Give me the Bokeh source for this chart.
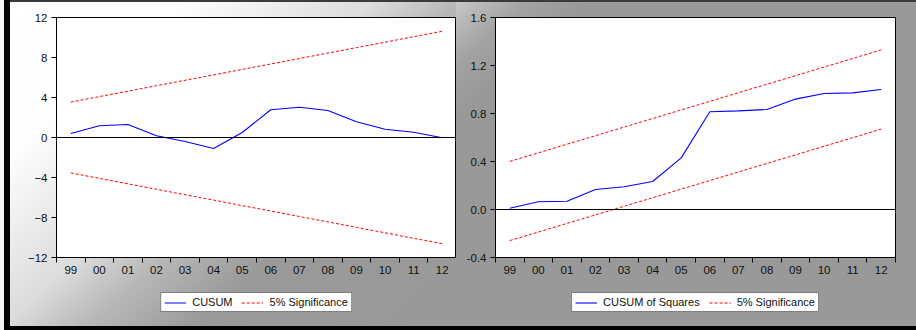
from bokeh.plotting import figure
from bokeh.models import (Range1d, FixedTicker, Span, Legend, LegendItem,
                          PrintfTickFormatter, CustomJSTickFormatter, BasicTickFormatter)
from bokeh.layouts import row, column
from bokeh.embed import file_html
from bokeh.resources import INLINE

# ---------------- data ----------------
years = ["99", "00", "01", "02", "03", "04", "05", "06", "07", "08", "09", "10", "11", "12"]

cusum = [0.40, 1.17, 1.30, 0.17, -0.40, -1.10, 0.50, 2.77, 3.03, 2.70, 1.57, 0.83, 0.53, -0.03]
cusum_upper = [3.54, 4.09, 4.63, 5.18, 5.72, 6.26, 6.81, 7.35, 7.90, 8.44, 8.99, 9.53, 10.08, 10.62]
cusum_lower = [-3.54, -4.09, -4.63, -5.18, -5.72, -6.26, -6.81, -7.35, -7.90, -8.44, -8.99, -9.53, -10.08, -10.62]

cusumsq = [0.01, 0.064, 0.069, 0.167, 0.189, 0.233, 0.43, 0.814, 0.822, 0.833, 0.92, 0.967, 0.972, 1.00]
sq_upper = [0.401, 0.472, 0.544, 0.615, 0.687, 0.758, 0.830, 0.901, 0.973, 1.044, 1.115, 1.187, 1.258, 1.330]
sq_lower = [-0.259, -0.188, -0.116, -0.045, 0.027, 0.098, 0.170, 0.241, 0.313, 0.384, 0.455, 0.527, 0.598, 0.670]

left_yticks = [-12, -8, -4, 0, 4, 8, 12]
right_yticks = [-0.4, 0.0, 0.4, 0.8, 1.2, 1.6]

FONT = "Liberation Sans"
BLUE = "#0000ff"
RED = "#ff0000"
DASH = "3 2"

n = len(years)
xs = [i + 0.5 for i in range(n)]
bounds = list(range(n + 1))

TOP = 17
FRAME_H = 240
PLOT_H = 286
LEG_H = 44


def make_panel(width, bl, br, yr, yticks, yfmt, series, upper, lower, label):
    p = figure(width=width, height=PLOT_H, output_backend="svg", toolbar_location=None,
               x_range=Range1d(0, n), y_range=yr,
               min_border_left=bl, min_border_right=br, min_border_top=TOP,
               min_border_bottom=PLOT_H - TOP - FRAME_H)
    p.border_fill_color = None
    p.background_fill_color = "white"
    p.outline_line_color = "black"
    p.outline_line_width = 1
    p.grid.visible = False

    p.add_layout(Span(location=0, dimension="width", line_color="black", line_width=1))

    p.line(xs, upper, line_color=RED, line_width=1, line_dash=DASH)
    p.line(xs, lower, line_color=RED, line_width=1, line_dash=DASH)
    p.line(xs, series, line_color=BLUE, line_width=1.1)

    # x axis: labels centred in each interval, tick marks on the boundaries
    xa = p.xaxis[0]
    xa.ticker = FixedTicker(ticks=xs, minor_ticks=bounds)
    xa.formatter = CustomJSTickFormatter(args=dict(labels=years),
                                         code="return labels[Math.floor(tick)];")
    xa.major_tick_line_color = None
    xa.major_tick_out = 0
    xa.major_tick_in = 0
    xa.minor_tick_line_color = "black"
    xa.minor_tick_out = 5
    xa.minor_tick_in = 0
    xa.major_label_standoff = 3

    ya = p.yaxis[0]
    ya.ticker = FixedTicker(ticks=yticks)
    ya.formatter = yfmt
    ya.minor_tick_line_color = None
    ya.major_tick_line_color = "black"
    ya.major_tick_out = 5
    ya.major_tick_in = 0
    ya.major_label_standoff = 4

    for ax in (xa, ya):
        ax.axis_line_color = "black"
        ax.major_label_text_font = FONT
        ax.major_label_text_font_size = "11.5px"
        ax.major_label_text_color = "#111111"

    # legend strip below the plot (same series, drawn out of view)
    lg = figure(width=width, height=LEG_H, output_backend="svg", toolbar_location=None,
                x_range=Range1d(0, n), y_range=Range1d(1000, 1001),
                x_axis_location=None, y_axis_location=None,
                min_border_left=bl, min_border_right=br, min_border_top=0, min_border_bottom=0)
    lg.border_fill_color = None
    lg.background_fill_color = None
    lg.outline_line_color = None
    lg.grid.visible = False
    d_s = lg.line(xs, series, line_color=BLUE, line_width=1.1)
    d_u = lg.line(xs, upper, line_color=RED, line_width=1, line_dash=DASH)
    legend = Legend(items=[LegendItem(label=label, renderers=[d_s]),
                           LegendItem(label="5% Significance", renderers=[d_u])],
                    location="top_center", orientation="horizontal")
    legend.label_text_font = FONT
    legend.label_text_font_size = "11px"
    legend.label_text_color = "#111111"
    legend.border_line_color = "black"
    legend.border_line_width = 1
    legend.background_fill_color = "white"
    legend.background_fill_alpha = 1
    legend.padding = 3
    legend.spacing = 9
    legend.glyph_width = 22
    legend.glyph_height = 11
    legend.label_height = 11
    legend.label_standoff = 6
    legend.margin = 6
    lg.add_layout(legend)
    return p, lg


p1, l1 = make_panel(456, 56, 0, Range1d(-12, 12), left_yticks, BasicTickFormatter(),
                    cusum, cusum_upper, cusum_lower, "CUSUM")
p2, l2 = make_panel(460, 39, 21, Range1d(-0.4, 1.6), right_yticks, PrintfTickFormatter(format="%.1f"),
                    cusumsq, sq_upper, sq_lower, "CUSUM of Squares")

left_bg = ("linear-gradient(139deg, #ffffff 0%, #fdfdfd 23%, #dcdcdc 45%, "
           "#b8b8b8 55%, #9a9a9a 68%, #999999 100%)")
right_bg = "linear-gradient(139deg, #c8c8c8 0%, #a2a2a2 9%, #999999 16%, #999999 100%)"

left_frame = ("inset 4px 0 0 #f4f4f4, inset 10px 0 0 #000000, "
              "inset 0 -4px 0 #000000, inset 0 2px 0 #3a3a3a")
right_frame = "inset 0 -4px 0 #000000, inset 0 2px 0 #3a3a3a"

c1 = column(p1, l1, spacing=0, styles={"background": left_bg, "box-shadow": left_frame})
c2 = column(p2, l2, spacing=0, styles={"background": right_bg, "box-shadow": right_frame})
layout = row(c1, c2, spacing=0)
open("out.html", "w").write(file_html(layout, INLINE))
